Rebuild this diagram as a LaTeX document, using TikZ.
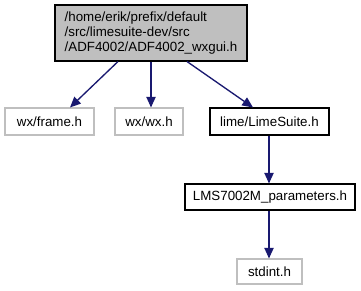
\documentclass[tikz,border=0pt]{standalone}
\usepackage{fontspec}
\setmainfont{Liberation Sans}
\usetikzlibrary{arrows.meta}
\definecolor{edgeblue}{HTML}{191970}
\definecolor{boxgray}{HTML}{BFBFBF}
\definecolor{lightframe}{HTML}{BFBFBF}
\tikzset{
  filebox/.style={draw=black, line width=0.8pt, fill=white, inner sep=0pt,
    font=\fontsize{10}{11}\selectfont},
  extbox/.style={filebox, draw=lightframe},
  mainbox/.style={filebox, fill=boxgray, align=left},
  dep/.style={draw=edgeblue, line width=1pt,
    -{Triangle[length=8pt, width=7pt]}}
}
\begin{document}
\begin{tikzpicture}[x=0.75pt, y=-0.75pt]
  \useasboundingbox (0,0) rectangle (361,291);
  \node[mainbox, minimum width=144pt, minimum height=42pt] (main) at (151,33)
    {/home/erik/prefix/default\\/src/limesuite-dev/src\\/ADF4002/ADF4002\_wxgui.h};
  \node[extbox, minimum width=66.75pt, minimum height=20.25pt] (frame) at (49.5,121.5) {wx/frame.h};
  \node[extbox, minimum width=51pt, minimum height=20.25pt] (wx) at (149,121.5) {wx/wx.h};
  \node[filebox, minimum width=89.25pt, minimum height=20.25pt] (lime) at (269.5,121.5) {lime/LimeSuite.h};
  \node[filebox, minimum width=127.5pt, minimum height=19.5pt] (lms) at (270,197) {LMS7002M\_parameters.h};
  \node[extbox, minimum width=48.75pt, minimum height=18.75pt] (std) at (269.5,271.5) {stdint.h};
  \draw[dep] (main.south -| 118,0) -- (frame.north -| 70,0);
  \draw[dep] (main.south -| 151,0) -- (wx.north -| 151,0);
  \draw[dep] (main.south -| 187,0) -- (lime.north -| 253,0);
  \draw[dep] (lime.south -| 269,0) -- (lms.north -| 269,0);
  \draw[dep] (lms.south -| 269,0) -- (std.north -| 269,0);
\end{tikzpicture}
\end{document}
